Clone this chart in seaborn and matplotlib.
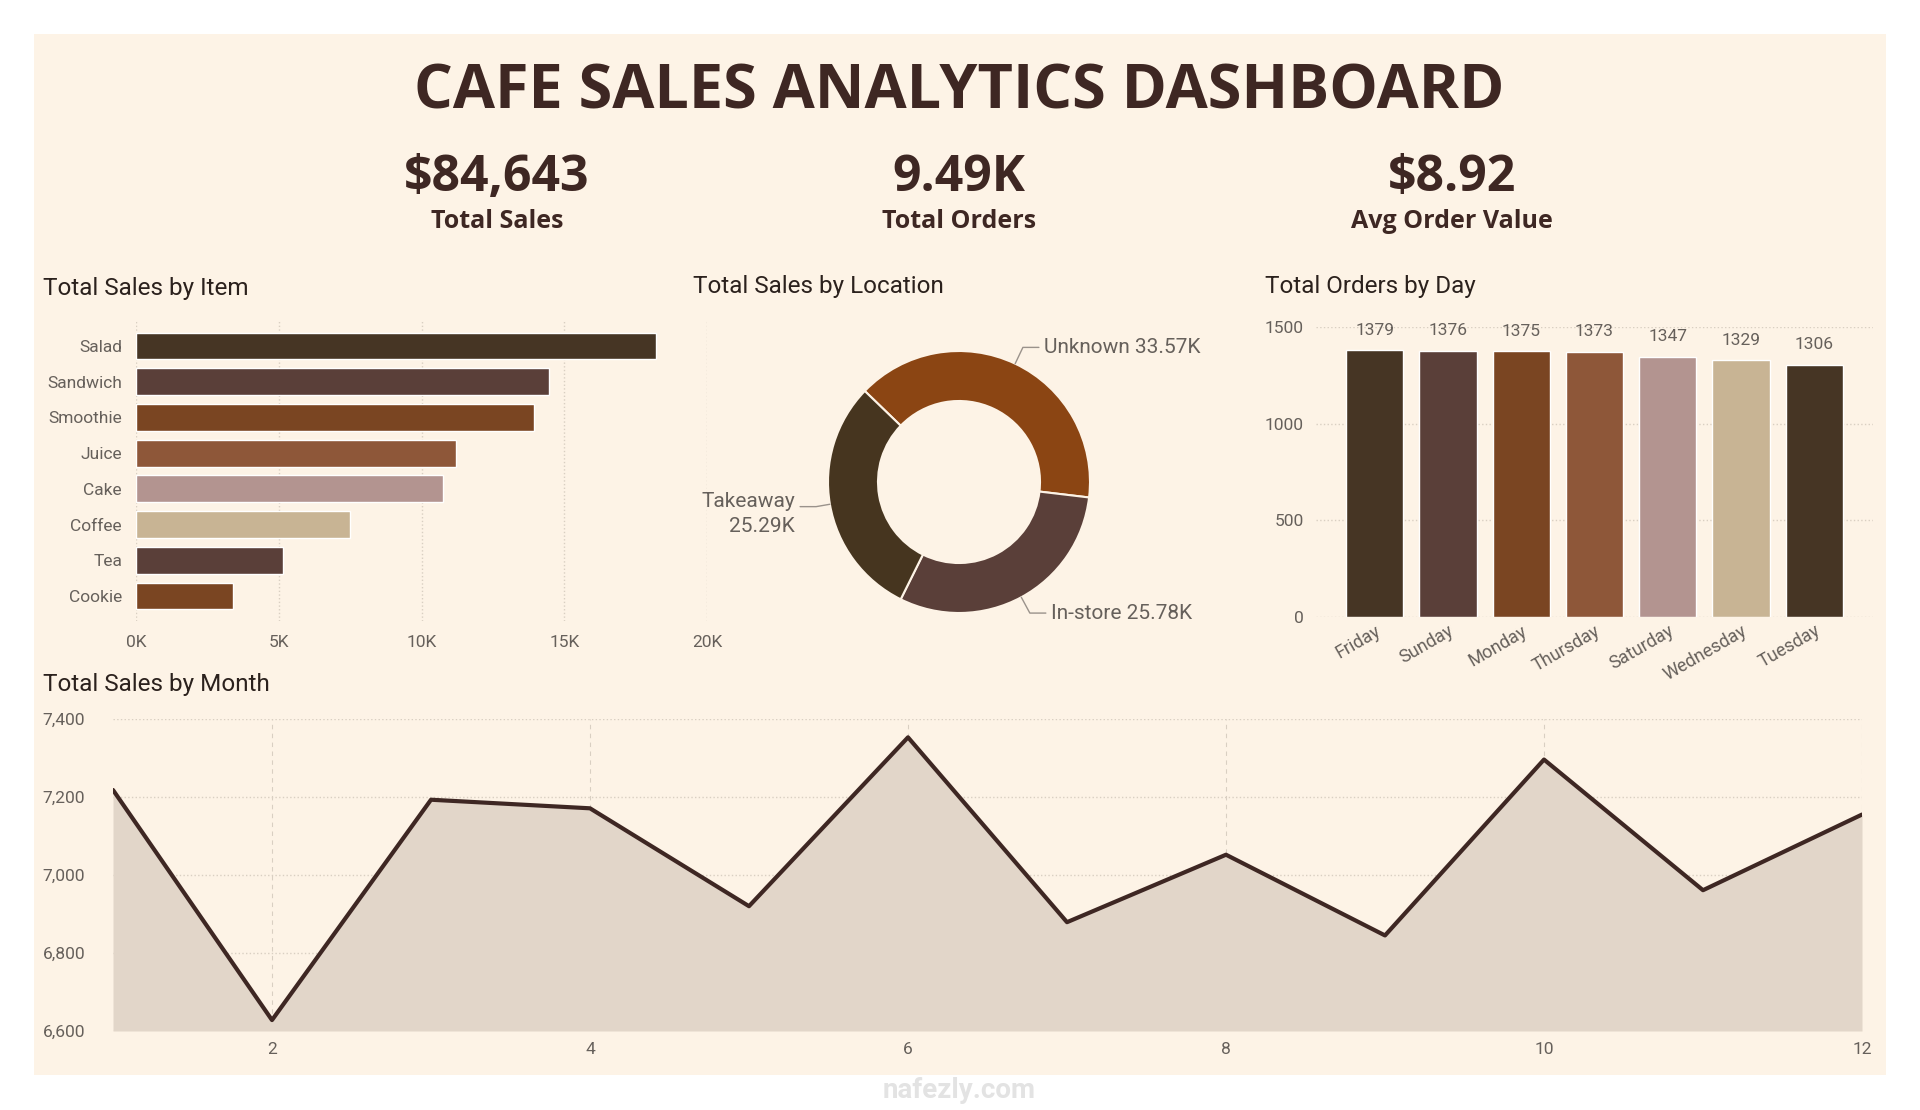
import matplotlib.pyplot as plt
import matplotlib.ticker as mticker
from matplotlib.patches import Rectangle
import numpy as np
import seaborn as sns

# ---- data ----
items = ["Salad", "Sandwich", "Smoothie", "Juice", "Cake", "Coffee", "Tea", "Cookie"]
item_sales = [18200, 14450, 13950, 11200, 10770, 7510, 5150, 3390]

locations = ["Unknown", "In-store", "Takeaway"]
location_sales = [33570, 25780, 25290]
location_labels = ["Unknown 33.57K", "In-store 25.78K", "Takeaway\n25.29K"]

days = ["Friday", "Sunday", "Monday", "Thursday", "Saturday", "Wednesday", "Tuesday"]
day_orders = [1379, 1376, 1375, 1373, 1347, 1329, 1306]

months = [1, 2, 3, 4, 5, 6, 7, 8, 9, 10, 11, 12]
month_sales = [7218, 6628, 7193, 7171, 6920, 7353, 6879, 7052, 6845, 7296, 6961, 7155]

kpi_values = ["$84,643", "9.49K", "$8.92"]
kpi_labels = ["Total Sales", "Total Orders", "Avg Order Value"]

# ---- colours ----
BG = "#FDF3E6"
DARK = "#3E2723"
GREY = "#66605B"
GRID = "#D9CFC2"
c1, c2, c3, c4, c5, c6 = "#463524", "#5A3F39", "#7A4522", "#8E5739", "#B39490", "#C8B494"
item_colors = [c1, c2, c3, c4, c5, c6, c2, c3]
day_colors = [c1, c2, c3, c4, c5, c6, c1]
location_colors = ["#8B4513", "#5A3F39", "#46351F"]

sns.set_theme(style="white")
plt.rcParams["font.family"] = ["Roboto", "DejaVu Sans"]

W, H = 1920, 1110
fig = plt.figure(figsize=(W / 100, H / 100), dpi=100, facecolor="white")
fig.add_artist(Rectangle((34 / W, 1 - 1075 / H), (1886 - 34) / W, (1075 - 34) / H,
                         transform=fig.transFigure, facecolor=BG, edgecolor="none", zorder=0))


def px_axes(l, t, r, b):
    ax = fig.add_axes([l / W, 1 - b / H, (r - l) / W, (b - t) / H])
    ax.set_facecolor("none")
    return ax


def ftext(x, y, s, **kw):
    fig.text(x / W, 1 - y / H, s, **kw)


def clean(ax):
    for sp in ax.spines.values():
        sp.set_visible(False)
    ax.tick_params(length=0, colors=GREY, labelsize=12.5)
    ax.set_xlabel("")
    ax.set_ylabel("")


# header
ftext(959, 93, "CAFE SALES ANALYTICS DASHBOARD", family="Open Sans", weight="bold",
      fontsize=44, color=DARK, ha="center", va="center")
for xc, v, lab in zip([497, 959, 1452], kpi_values, kpi_labels):
    ftext(xc, 178, v, family="Open Sans", weight="bold", fontsize=36, color=DARK,
          ha="center", va="center")
    ftext(xc, 222, lab, family="Open Sans", weight="bold", fontsize=18, color=DARK,
          ha="center", va="center")

# panel titles
for x, y, s in [(43, 288, "Total Sales by Item"), (693, 286, "Total Sales by Location"),
                (1265, 286, "Total Orders by Day"), (43, 685, "Total Sales by Month")]:
    ftext(x, y, s, fontsize=17.5, color="#2B211D", ha="left", va="center")

# ---- sales by item ----
ax = px_axes(136, 321, 707, 621)
sns.barplot(x=item_sales, y=items, hue=items, palette=item_colors, legend=False,
            saturation=1, width=0.75, orient="h", ax=ax)
ax.set_xlim(0, 20000)
ax.set_ylim(7.7, -0.7)
ax.set_xticks(np.arange(0, 20001, 5000))
ax.xaxis.set_major_formatter(mticker.FuncFormatter(lambda v, p: f"{int(v / 1000)}K"))
ax.grid(axis="x", color=GRID, linestyle=":", linewidth=1)
ax.set_axisbelow(True)
clean(ax)
ax.tick_params(axis="y", pad=10)
ax.tick_params(axis="x", pad=10)

# ---- sales by location (donut) ----
ax = px_axes(759, 282, 1159, 682)
R = 0.655
wedges, _ = ax.pie(location_sales, colors=location_colors, startangle=136,
                   counterclock=False, radius=R,
                   wedgeprops=dict(width=0.25, edgecolor=BG, linewidth=1.5))
ax.set_xlim(-1, 1)
ax.set_ylim(-1, 1)
ax.axis("off")
for w, lab in zip(wedges, location_labels):
    ang = np.deg2rad((w.theta1 + w.theta2) / 2)
    cx, cy = np.cos(ang), np.sin(ang)
    side = 1 if cx >= 0 else -1
    ext = 0.09 if side > 0 else 0.07
    p0 = (R * cx, R * cy)
    p1 = ((R + ext) * cx, (R + ext) * cy)
    p2 = (p1[0] + side * 0.08, p1[1])
    ax.plot([p0[0], p1[0], p2[0]], [p0[1], p1[1], p2[1]], color="#9A928B", lw=1)
    ty = p2[1] - (0.035 if side < 0 else 0)
    ax.text(p2[0] + side * 0.025, ty, lab, ha="left" if side > 0 else "right",
            va="center", fontsize=15, color=GREY, linespacing=1.4,
            multialignment="right")

# ---- orders by day ----
ax = px_axes(1316, 327, 1873, 617)
sns.barplot(x=days, y=day_orders, hue=days, palette=day_colors, legend=False,
            saturation=1, width=0.78, ax=ax)
ax.set_xlim(-0.8, 6.8)
ax.set_ylim(0, 1500)
ax.set_yticks([0, 500, 1000, 1500])
ax.grid(axis="y", color=GRID, linestyle=":", linewidth=1)
ax.set_axisbelow(True)
for cont in ax.containers:
    ax.bar_label(cont, padding=9, fontsize=12.5, color=GREY, clip_on=False)
clean(ax)
ax.tick_params(axis="y", pad=9)
ax.tick_params(axis="x", labelsize=13)
plt.setp(ax.get_xticklabels(), rotation=30, ha="right", rotation_mode="anchor")

# ---- sales by month ----
ax = px_axes(113, 719, 1862, 1031)
ax.fill_between(months, month_sales, 6600, color="#E2D6C9", linewidth=0)
sns.lineplot(x=months, y=month_sales, color="#3E2723", linewidth=3, ax=ax)
ax.set_xlim(1, 12)
ax.set_ylim(6600, 7400)
ax.set_xticks(range(2, 13, 2))
ax.set_yticks(range(6600, 7401, 200))
ax.yaxis.set_major_formatter(mticker.FuncFormatter(lambda v, p: f"{int(v):,}"))
ax.grid(axis="y", color=GRID, linestyle=":", linewidth=1)
ax.grid(axis="x", color=GRID, linestyle=(0, (4, 4)), linewidth=0.8)
ax.set_axisbelow(True)
clean(ax)
ax.tick_params(labelsize=12.5)
ax.tick_params(axis="y", pad=20)
ax.tick_params(axis="x", pad=8)

ftext(959, 1090, "nafezly.com", fontsize=20, color="#E3E3E3", ha="center", va="center",
      weight="bold")

fig.savefig("out.png", dpi=100, facecolor="white")
